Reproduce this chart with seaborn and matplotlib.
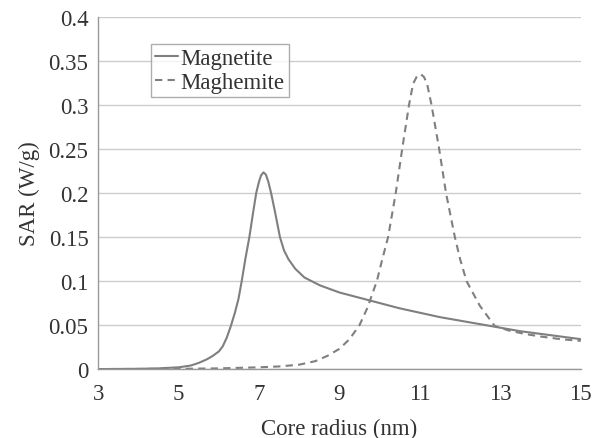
import numpy as np
import pandas as pd
import matplotlib
matplotlib.use("Agg")
import matplotlib.pyplot as plt
import seaborn as sns
from matplotlib.ticker import FuncFormatter

# data
magnetite_x = [3, 4, 4.5, 5, 5.3, 5.5, 5.7, 5.85, 6.0, 6.1, 6.2, 6.3, 6.4, 6.49, 6.57, 6.66,
               6.76, 6.85, 6.93, 7.0, 7.05, 7.11, 7.17, 7.23, 7.30, 7.4, 7.52, 7.62, 7.73,
               7.9, 8.13, 8.52, 9, 9.5, 10, 10.5, 11, 11.5, 12, 12.5, 13, 13.5, 14, 14.5, 15]
magnetite_y = [0, 0.0003, 0.0008, 0.002, 0.004, 0.007, 0.011, 0.015, 0.02, 0.026, 0.036,
               0.049, 0.064, 0.08, 0.1, 0.125, 0.15, 0.177, 0.2, 0.213, 0.22, 0.2235, 0.221,
               0.213, 0.2, 0.178, 0.15, 0.135, 0.125, 0.114, 0.104, 0.095, 0.087, 0.081,
               0.075, 0.069, 0.064, 0.059, 0.055, 0.051, 0.047, 0.043, 0.04, 0.037, 0.034]

maghemite_x = [3, 5, 6, 7, 7.5, 8, 8.4, 8.7, 9.0, 9.25, 9.5, 9.7, 9.93, 10.05, 10.21, 10.4,
               10.56, 10.73, 10.83, 10.93, 11.02, 11.1, 11.18, 11.29, 11.48, 11.65, 11.87,
               12.0, 12.16, 12.49, 12.86, 13.2, 13.6, 14, 14.5, 15]
maghemite_y = [0, 0.0003, 0.0008, 0.002, 0.003, 0.005, 0.009, 0.015, 0.023, 0.034, 0.05, 0.07,
               0.1, 0.122, 0.15, 0.2, 0.25, 0.3, 0.324, 0.333, 0.335, 0.332, 0.324, 0.3, 0.25,
               0.2, 0.15, 0.125, 0.1, 0.072, 0.049, 0.044, 0.04, 0.037, 0.034, 0.032]

x_ticks = [3, 5, 7, 9, 11, 13, 15]
y_ticks = [0, 0.05, 0.1, 0.15, 0.2, 0.25, 0.3, 0.35, 0.4]

df = pd.concat([
    pd.DataFrame({"r": magnetite_x, "sar": magnetite_y, "material": "Magnetite"}),
    pd.DataFrame({"r": maghemite_x, "sar": maghemite_y, "material": "Maghemite"}),
])

sns.set_style("white")
plt.rcParams["font.family"] = ["Liberation Serif", "DejaVu Serif"]

fig = plt.figure(figsize=(5.95, 4.39), dpi=100)
ax = fig.add_axes([0.165, 0.157, 0.811, 0.802])

line_col = "#7f7f7f"
sns.lineplot(data=df, x="r", y="sar", style="material", ax=ax,
             color=line_col, linewidth=1.5, sort=False,
             dashes={"Magnetite": "", "Maghemite": (3.5, 2.5)})

ax.set_xlim(3, 15)
ax.set_ylim(0, 0.4)
ax.set_xticks(x_ticks)
ax.set_yticks(y_ticks)
ax.yaxis.set_major_formatter(FuncFormatter(lambda v, p: f"{v:g}"))
ax.grid(axis="y", color="#cccccc", linewidth=1)
ax.grid(axis="x", visible=False)
ax.set_axisbelow(True)

for s in ["top", "right"]:
    ax.spines[s].set_visible(False)
for s in ["left", "bottom"]:
    ax.spines[s].set_color("#999999")
    ax.spines[s].set_linewidth(1)
ax.tick_params(axis="both", direction="out", length=4, width=1, color="#999999",
               labelsize=16.5, labelcolor="#333333")
ax.tick_params(axis="x", pad=6)
ax.tick_params(axis="y", pad=3)

ax.set_xlabel("Core radius (nm)", fontsize=16.5, color="#333333", labelpad=10)
ax.set_ylabel("SAR (W/g)", fontsize=16.5, color="#333333", labelpad=6)

leg = ax.legend(loc="upper left", bbox_to_anchor=(0.085, 0.957), fontsize=16.5,
                handlelength=1.0, handletextpad=0.1, borderpad=0.2,
                labelspacing=0.1, fancybox=False, frameon=True)
leg.get_frame().set_edgecolor("#999999")
leg.get_frame().set_linewidth(1)
for t in leg.get_texts():
    t.set_color("#333333")
leg.set_title(None)

fig.savefig("out.png", dpi=100)
